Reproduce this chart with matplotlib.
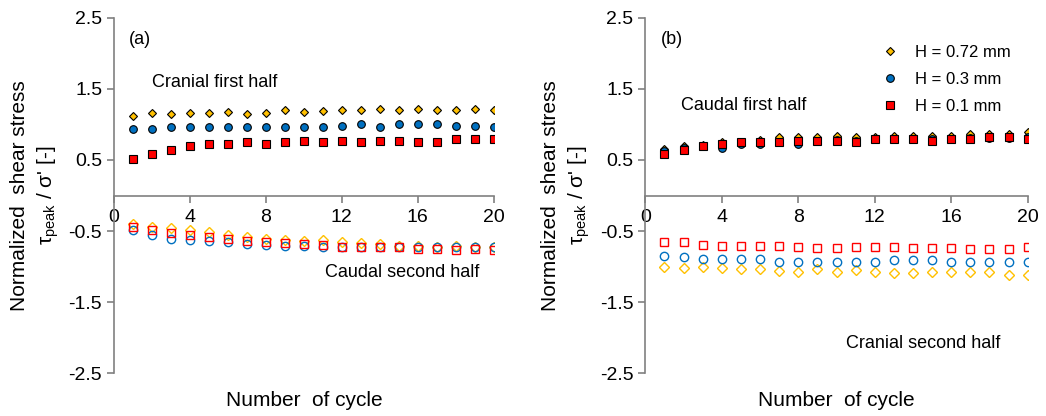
import matplotlib
matplotlib.use("Agg")
import matplotlib.pyplot as plt
import numpy as np

plt.rcParams['font.family'] = ['Liberation Sans', 'DejaVu Sans']
plt.rcParams['mathtext.fontset'] = 'custom'
plt.rcParams['mathtext.rm'] = 'Liberation Sans'
plt.rcParams['mathtext.it'] = 'Liberation Sans'
plt.rcParams['axes.unicode_minus'] = False

cycles = np.arange(1, 21)

# panel (a): cranial first half (filled), caudal second half (open)
a_first_072 = [1.12, 1.16, 1.15, 1.16, 1.16, 1.17, 1.15, 1.16, 1.21, 1.18,
               1.19, 1.21, 1.21, 1.22, 1.21, 1.22, 1.21, 1.21, 1.22, 1.21]
a_first_03 = [0.93, 0.93, 0.97, 0.96, 0.97, 0.97, 0.97, 0.97, 0.97, 0.97,
              0.97, 0.985, 1.0, 0.97, 1.0, 1.0, 1.0, 0.985, 0.985, 0.97]
a_first_01 = [0.52, 0.59, 0.64, 0.69, 0.72, 0.72, 0.75, 0.73, 0.75, 0.77,
              0.76, 0.77, 0.75, 0.77, 0.77, 0.76, 0.76, 0.79, 0.79, 0.80]
a_second_072 = [-0.40, -0.44, -0.46, -0.49, -0.52, -0.56, -0.59, -0.61, -0.62, -0.64,
                -0.63, -0.66, -0.67, -0.68, -0.71, -0.71, -0.73, -0.71, -0.72, -0.72]
a_second_03 = [-0.49, -0.56, -0.61, -0.62, -0.64, -0.66, -0.68, -0.70, -0.71, -0.71,
               -0.72, -0.72, -0.72, -0.73, -0.72, -0.72, -0.73, -0.73, -0.73, -0.73]
a_second_01 = [-0.45, -0.49, -0.53, -0.56, -0.59, -0.61, -0.64, -0.66, -0.67, -0.68,
               -0.69, -0.72, -0.72, -0.73, -0.72, -0.75, -0.75, -0.76, -0.75, -0.76]

# panel (b): caudal first half (filled), cranial second half (open)
b_first_072 = [0.65, 0.70, 0.71, 0.75, 0.76, 0.78, 0.82, 0.83, 0.83, 0.84,
               0.82, 0.83, 0.84, 0.84, 0.84, 0.84, 0.86, 0.86, 0.87, 0.89]
b_first_03 = [0.63, 0.67, 0.69, 0.67, 0.73, 0.72, 0.75, 0.73, 0.77, 0.78,
              0.77, 0.80, 0.80, 0.80, 0.79, 0.80, 0.81, 0.81, 0.81, 0.83]
b_first_01 = [0.58, 0.64, 0.69, 0.72, 0.75, 0.76, 0.75, 0.77, 0.77, 0.77,
              0.76, 0.79, 0.79, 0.79, 0.77, 0.80, 0.80, 0.83, 0.82, 0.80]
b_second_072 = [-1.01, -1.02, -1.00, -1.02, -1.04, -1.04, -1.06, -1.07, -1.04, -1.07,
                -1.05, -1.07, -1.09, -1.09, -1.07, -1.07, -1.07, -1.07, -1.12, -1.12]
b_second_03 = [-0.85, -0.86, -0.89, -0.90, -0.90, -0.90, -0.93, -0.93, -0.93, -0.94,
               -0.93, -0.93, -0.91, -0.91, -0.91, -0.94, -0.93, -0.93, -0.94, -0.94]
b_second_01 = [-0.65, -0.66, -0.69, -0.71, -0.71, -0.71, -0.71, -0.72, -0.74, -0.74,
               -0.72, -0.72, -0.72, -0.74, -0.74, -0.74, -0.75, -0.75, -0.75, -0.72]

labels = ['H = 0.72 mm', 'H = 0.3 mm', 'H = 0.1 mm']
colors = ['#FFC000', '#0070C0', '#FF0000']
markers = ['D', 'o', 's']
sizes = [4.5, 5.5, 5.5]

yticks = [2.5, 1.5, 0.5, -0.5, -1.5, -2.5]
xticks = [0, 4, 8, 12, 16, 20]
gray = '#808080'

fig = plt.figure(figsize=(10.46, 4.16), dpi=100)
ax_a = fig.add_axes([0.109, 0.103, 0.363, 0.854])
ax_b = fig.add_axes([0.617, 0.103, 0.3655, 0.854])


def style(ax):
    ax.set_xlim(0, 20)
    ax.set_ylim(-2.5, 2.5)
    ax.set_yticks(yticks)
    ax.set_xticks(xticks)
    ax.spines['top'].set_visible(False)
    ax.spines['right'].set_visible(False)
    ax.spines['bottom'].set_position(('data', 0))
    for s in ('left', 'bottom'):
        ax.spines[s].set_color(gray)
        ax.spines[s].set_linewidth(1.2)
    ax.tick_params(axis='both', direction='out', length=5, width=1.2,
                   color=gray, labelsize=14, labelcolor='black')
    ax.tick_params(axis='x', pad=5)
    ax.set_ylabel("Normalized  shear stress\n$\\tau_{\\mathrm{peak}}$ / σ' [-]",
                  fontsize=15, linespacing=1.35)
    ax.yaxis.set_label_coords(-0.14, 0.5)
    ax.set_xlabel("Number  of cycle", fontsize=15)
    ax.xaxis.set_label_coords(0.5, -0.05)


def draw(ax, filled, opened):
    for vals, c, m, ms, lab in zip(filled, colors, markers, sizes, labels):
        ax.plot(cycles, vals, linestyle='none', marker=m, markersize=ms,
                markerfacecolor=c, markeredgecolor='black', markeredgewidth=0.8,
                label=lab, zorder=3)
    for vals, c, m, ms in zip(opened, colors, markers, sizes):
        ax.plot(cycles, vals, linestyle='none', marker=m, markersize=ms + 0.5,
                markerfacecolor='none', markeredgecolor=c, markeredgewidth=1.0,
                zorder=3)


draw(ax_a, [a_first_072, a_first_03, a_first_01], [a_second_072, a_second_03, a_second_01])
draw(ax_b, [b_first_072, b_first_03, b_first_01], [b_second_072, b_second_03, b_second_01])
style(ax_a)
style(ax_b)

ax_a.text(0.8, 2.2, '(a)', fontsize=13, va='center')
ax_a.text(2.0, 1.59, 'Cranial first half', fontsize=13, va='center')
ax_a.text(11.1, -1.08, 'Caudal second half', fontsize=13, va='center')

ax_b.text(0.8, 2.2, '(b)', fontsize=13, va='center')
ax_b.text(1.85, 1.27, 'Caudal first half', fontsize=13, va='center')
ax_b.text(10.5, -2.08, 'Cranial second half', fontsize=13, va='center')

ax_b.legend(loc='upper left', bbox_to_anchor=(0.58, 0.965), frameon=False,
            fontsize=12, handletextpad=1.0, labelspacing=0.7, handlelength=1.0)

fig.savefig('out.png', dpi=100)
